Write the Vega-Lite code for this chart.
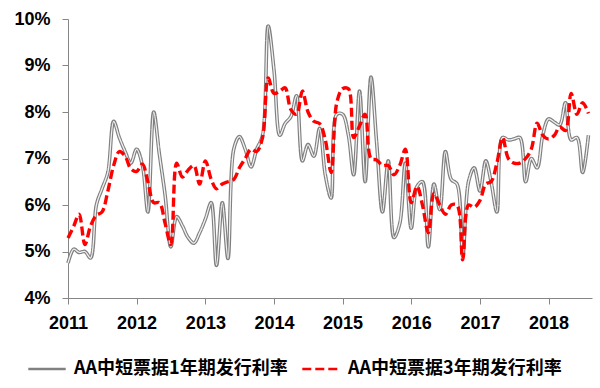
{
"$schema": "https://vega.github.io/schema/vega-lite/v6.json",
"width": 524, "height": 279,
"autosize": {"type": "none"},
"padding": {"left": 68, "top": 19, "right": 8, "bottom": 90},
"background": "white",
"config": {"view": {"stroke": null},
  "axis": {"grid": false, "domainColor": "#868686", "tickColor": "#868686", "tickSize": 6, "labelFont": "Liberation Sans", "labelFontWeight": "bold", "labelFontSize": 18, "labelColor": "#000000", "title": null}},
"data": {"values": [
{"d":"2011/01/01","y1":4.75,"y3":5.29},{"d":"2011/02/01","y1":5.05,"y3":5.55},{"d":"2011/03/01","y1":4.98,"y3":5.8},{"d":"2011/04/01","y1":5.0,"y3":5.15},{"d":"2011/05/01","y1":4.86,"y3":5.55},{"d":"2011/06/01","y1":6.0,"y3":5.78},{"d":"2011/07/01","y1":6.35,"y3":5.85},{"d":"2011/08/01","y1":6.7,"y3":6.3},{"d":"2011/09/01","y1":7.8,"y3":6.85},{"d":"2011/10/01","y1":7.45,"y3":7.15},{"d":"2011/11/01","y1":7.15,"y3":7.05},{"d":"2011/12/01","y1":6.9,"y3":6.78},
{"d":"2012/01/01","y1":7.2,"y3":6.72},{"d":"2012/02/01","y1":6.85,"y3":6.88},{"d":"2012/03/01","y1":5.85,"y3":6.5},{"d":"2012/04/01","y1":8.0,"y3":6.05},{"d":"2012/05/01","y1":7.1,"y3":6.05},{"d":"2012/06/01","y1":6.2,"y3":5.6},{"d":"2012/07/01","y1":5.1,"y3":5.15},{"d":"2012/08/01","y1":5.75,"y3":6.9},{"d":"2012/09/01","y1":5.55,"y3":6.6},{"d":"2012/10/01","y1":5.3,"y3":6.75},{"d":"2012/11/01","y1":5.18,"y3":6.85},{"d":"2012/12/01","y1":5.4,"y3":6.45},
{"d":"2013/01/01","y1":5.7,"y3":6.95},{"d":"2013/02/01","y1":6.05,"y3":6.55},{"d":"2013/03/01","y1":4.7,"y3":6.35},{"d":"2013/04/01","y1":6.05,"y3":6.45},{"d":"2013/05/01","y1":4.85,"y3":6.5},{"d":"2013/06/01","y1":7.2,"y3":6.55},{"d":"2013/07/01","y1":7.47,"y3":6.8},{"d":"2013/08/01","y1":7.2,"y3":7.0},{"d":"2013/09/01","y1":6.82,"y3":7.2},{"d":"2013/10/01","y1":7.2,"y3":7.15},{"d":"2013/11/01","y1":7.5,"y3":7.45},{"d":"2013/12/01","y1":9.85,"y3":8.73},
{"d":"2014/01/01","y1":8.9,"y3":8.4},{"d":"2014/02/01","y1":7.5,"y3":8.45},{"d":"2014/03/01","y1":7.75,"y3":8.52},{"d":"2014/04/01","y1":7.9,"y3":8.05},{"d":"2014/05/01","y1":8.35,"y3":7.95},{"d":"2014/06/01","y1":6.95,"y3":8.45},{"d":"2014/07/01","y1":7.3,"y3":8.0},{"d":"2014/08/01","y1":7.05,"y3":7.8},{"d":"2014/09/01","y1":7.65,"y3":7.75},{"d":"2014/10/01","y1":6.65,"y3":7.4},{"d":"2014/11/01","y1":6.15,"y3":6.7},{"d":"2014/12/01","y1":7.95,"y3":8.2},
{"d":"2015/01/01","y1":7.95,"y3":8.5},{"d":"2015/02/01","y1":7.5,"y3":8.5},{"d":"2015/03/01","y1":6.65,"y3":7.45},{"d":"2015/04/01","y1":8.45,"y3":7.7},{"d":"2015/05/01","y1":6.5,"y3":7.95},{"d":"2015/06/01","y1":8.75,"y3":7.0},{"d":"2015/07/01","y1":7.35,"y3":6.97},{"d":"2015/08/01","y1":5.85,"y3":6.85},{"d":"2015/09/01","y1":6.95,"y3":6.85},{"d":"2015/10/01","y1":5.3,"y3":6.65},{"d":"2015/11/01","y1":5.6,"y3":6.85},{"d":"2015/12/01","y1":6.9,"y3":7.2},
{"d":"2016/01/01","y1":5.5,"y3":6.05},{"d":"2016/02/01","y1":6.4,"y3":6.4},{"d":"2016/03/01","y1":6.5,"y3":6.0},{"d":"2016/04/01","y1":5.1,"y3":5.4},{"d":"2016/05/01","y1":6.45,"y3":6.25},{"d":"2016/06/01","y1":5.9,"y3":6.0},{"d":"2016/07/01","y1":7.15,"y3":5.8},{"d":"2016/08/01","y1":6.55,"y3":6.0},{"d":"2016/09/01","y1":6.45,"y3":6.0},{"d":"2016/10/01","y1":4.9,"y3":4.82},{"d":"2016/11/01","y1":6.5,"y3":6.0},{"d":"2016/12/01","y1":6.8,"y3":5.95},
{"d":"2017/01/01","y1":6.3,"y3":6.1},{"d":"2017/02/01","y1":6.95,"y3":6.45},{"d":"2017/03/01","y1":6.5,"y3":6.5},{"d":"2017/04/01","y1":5.85,"y3":6.9},{"d":"2017/05/01","y1":7.45,"y3":7.45},{"d":"2017/06/01","y1":7.4,"y3":7.0},{"d":"2017/07/01","y1":7.42,"y3":6.9},{"d":"2017/08/01","y1":7.45,"y3":6.9},{"d":"2017/09/01","y1":6.5,"y3":7.0},{"d":"2017/10/01","y1":7.0,"y3":7.2},{"d":"2017/11/01","y1":6.8,"y3":7.76},{"d":"2017/12/01","y1":7.5,"y3":7.5},
{"d":"2018/01/01","y1":7.85,"y3":7.42},{"d":"2018/02/01","y1":7.78,"y3":7.5},{"d":"2018/03/01","y1":7.72,"y3":7.68},{"d":"2018/04/01","y1":8.2,"y3":7.6},{"d":"2018/05/01","y1":7.4,"y3":8.4},{"d":"2018/06/01","y1":7.45,"y3":7.95},{"d":"2018/07/01","y1":6.7,"y3":8.2},{"d":"2018/08/01","y1":7.5,"y3":7.97}
]},
"encoding": {
  "x": {"field": "d", "type": "temporal",
    "scale": {"domain": [{"year": 2011, "month": 1, "date": 1}, {"year": 2018, "month": 8, "date": 20}]},
    "axis": {"tickCount": {"interval": "year", "step": 1}, "format": "%Y", "labelPadding": 10, "labelDx": 3, "labelFlush": false}}
},
"layer": [
  {"mark": {"type": "line", "interpolate": "catmull-rom", "strokeWidth": 3.6},
   "encoding": {
     "y": {"field": "y1", "type": "quantitative", "scale": {"domain": [4, 10], "nice": false},
       "axis": {"values": [4,5,6,7,8,9,10], "labelExpr": "datum.value + '%'", "labelPadding": 12}},
     "color": {"datum": "AA中短票据1年期发行利率", "type": "nominal",
       "scale": {"domain": ["AA中短票据1年期发行利率", "AA中短票据3年期发行利率"], "range": ["#808080", "#ff0000"]},
       "legend": {"orient": "none", "legendX": -41, "legendY": 330, "direction": "horizontal", "title": null,
         "symbolType": "stroke", "symbolSize": 1400, "symbolStrokeWidth": 2.5,
         "labelFont": "Noto Sans CJK SC", "labelFontWeight": "bold", "labelFontSize": 18, "labelColor": "#000000",
         "labelOffset": 7, "columnPadding": 9, "labelLimit": 400}},
     "strokeDash": {"datum": "AA中短票据1年期发行利率", "type": "nominal",
       "scale": {"domain": ["AA中短票据1年期发行利率", "AA中短票据3年期发行利率"], "range": [[1, 0], [9, 4]]}, "legend": null}
   }},
  {"mark": {"type": "line", "interpolate": "catmull-rom", "strokeWidth": 1.3, "color": "#f2f2f2"},
   "encoding": {"y": {"field": "y1", "type": "quantitative"}}},
  {"mark": {"type": "line", "interpolate": "catmull-rom", "strokeWidth": 3.4},
   "encoding": {
     "y": {"field": "y3", "type": "quantitative"},
     "color": {"datum": "AA中短票据3年期发行利率", "type": "nominal"},
     "strokeDash": {"datum": "AA中短票据3年期发行利率", "type": "nominal"}
   }}
]
}
